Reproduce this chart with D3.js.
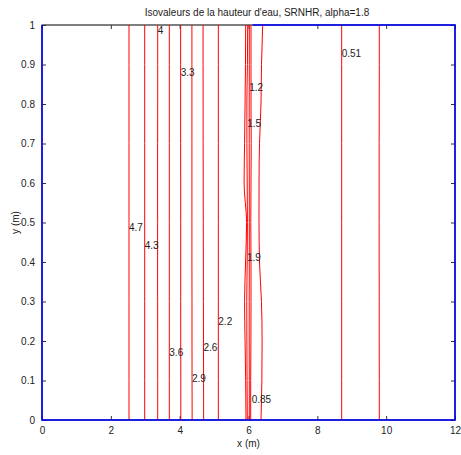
<!DOCTYPE html>
<html><head><meta charset="utf-8">
<script src="https://cdn.jsdelivr.net/npm/d3@7"></script>
<style>body{margin:0;background:#fff;} text{font-family:"Liberation Sans",Arial,sans-serif;}</style>
</head><body>
<svg id="c" width="461" height="455"></svg>
<script>
// sample heights (y) at which contour x-positions are given
const sampleY = [0, 0.1, 0.2, 0.3, 0.4, 0.5, 0.6, 0.7, 0.8, 0.9, 1.0];
// contour x positions (m) for each line, at sampleY
const contourLevels = ["4.7","4.3","4","3.6","3.3","2.9","2.6","2.2","1.9","1.5","1.2","0.85","0.85b","0.51","0.17"];
const contourX = [
  [2.528,2.528,2.528,2.528,2.528,2.528,2.528,2.528,2.528,2.528,2.528],
  [2.984,2.984,2.984,2.984,2.984,2.984,2.984,2.984,2.984,2.984,2.984],
  [3.362,3.362,3.362,3.360,3.360,3.360,3.360,3.360,3.362,3.362,3.362],
  [3.699,3.699,3.699,3.699,3.699,3.699,3.699,3.699,3.699,3.699,3.699],
  [4.033,4.033,4.031,4.030,4.030,4.030,4.030,4.028,4.028,4.028,4.028],
  [4.362,4.360,4.358,4.358,4.356,4.356,4.356,4.356,4.356,4.356,4.356],
  [4.697,4.695,4.692,4.690,4.688,4.686,4.684,4.682,4.681,4.680,4.680],
  [5.123,5.123,5.123,5.123,5.123,5.123,5.123,5.123,5.123,5.123,5.123],
  [5.927,5.918,5.900,5.886,5.915,5.944,5.872,5.886,5.900,5.912,5.918],
  [5.965,5.959,5.953,5.950,5.962,5.968,5.962,5.953,5.953,5.968,5.977],
  [6.023,6.023,6.020,6.020,6.023,6.023,6.023,6.020,6.020,6.023,6.023],
  [6.064,6.064,6.070,6.073,6.073,6.067,6.073,6.079,6.073,6.073,6.073],
  [6.363,6.388,6.395,6.377,6.320,6.305,6.306,6.320,6.363,6.378,6.412],
  [8.708,8.708,8.708,8.708,8.708,8.708,8.708,8.708,8.708,8.708,8.708],
  [9.800,9.800,9.798,9.798,9.796,9.796,9.796,9.796,9.798,9.800,9.800]
];
// inline labels: text, x (m), y (m)
const labelText = ["4.7","4.3","4","3.6","3.3","2.9","2.6","2.2","1.9","1.5","1.2","0.85","0.51"];
const labelX = [2.528,2.984,3.362,3.699,4.030,4.358,4.690,5.123,5.955,5.965,6.023,6.092,8.708];
const labelY = [0.488,0.441,0.987,0.172,0.880,0.106,0.184,0.249,0.411,0.751,0.841,0.053,0.927];
const xTicks = [0,2,4,6,8,10,12];
const yTicks = [0,0.1,0.2,0.3,0.4,0.5,0.6,0.7,0.8,0.9,1];
// blue boundary polyline (m)
const boundX = [6.12,12,12,0,0];
const boundY = [1,1,0,0,1];

const svg = d3.select("#c");
const L=42, R=455, T=25, B=420;
const x = d3.scaleLinear().domain([0,12]).range([L,R]);
const y = d3.scaleLinear().domain([0,1]).range([B,T]);

// box
svg.append("rect").attr("x",L).attr("y",T).attr("width",R-L).attr("height",B-T)
  .attr("fill","none").attr("stroke","#000").attr("stroke-width",1);

// axes with inward ticks
const axB = d3.axisBottom(x).tickValues(xTicks).tickSize(-4).tickPadding(7).tickFormat(d3.format("d"));
const axT = d3.axisTop(x).tickValues(xTicks).tickSize(-4).tickFormat("");
const axL = d3.axisLeft(y).tickValues(yTicks).tickSize(-4).tickPadding(7).tickFormat(d=>d===0?"0":d===1?"1":d3.format(".1f")(d));
const axR = d3.axisRight(y).tickValues(yTicks).tickSize(-4).tickFormat("");
function style(g){
  g.select(".domain").remove();
  g.selectAll(".tick line").attr("stroke","#333");
  g.selectAll(".tick text").attr("fill","#222").style("font-size","10px").style("font-family","Liberation Sans, Arial, sans-serif");
}
svg.append("g").attr("transform",`translate(0,${B})`).call(axB).call(style);
svg.append("g").attr("transform",`translate(0,${T})`).call(axT).call(style);
svg.append("g").attr("transform",`translate(${L},0)`).call(axL).call(style);
svg.append("g").attr("transform",`translate(${R},0)`).call(axR).call(style);

// contours
const line = d3.line().x(d=>x(d[0])).y(d=>y(d[1])).curve(d3.curveMonotoneY);
contourX.forEach((xs,i)=>{
  svg.append("path").datum(xs.map((v,j)=>[v,sampleY[j]]))
    .attr("d",line).attr("fill","none").attr("stroke","#ff0000").attr("stroke-width",1);
});

// boundary
svg.append("path").datum(boundX.map((v,i)=>[v,boundY[i]]))
  .attr("d",d3.line().x(d=>x(d[0])).y(d=>y(d[1])))
  .attr("fill","none").attr("stroke","#0000ff").attr("stroke-width",1.5);

// labels
labelText.forEach((t,i)=>{
  svg.append("text").attr("x",x(labelX[i])).attr("y",y(labelY[i])).attr("dy","0.35em")
    .attr("fill","#222").style("font-size","10px").text(t);
});

// title & axis labels
svg.append("text").attr("x",257).attr("y",16).attr("text-anchor","middle").attr("fill","#222")
  .style("font-size","10px").text("Isovaleurs de la hauteur d'eau, SRNHR, alpha=1.8");
svg.append("text").attr("x",(L+R)/2).attr("y",447).attr("text-anchor","middle").attr("fill","#222")
  .style("font-size","10px").text("x (m)");
svg.append("text").attr("transform",`translate(19,${(T+B)/2}) rotate(-90)`).attr("text-anchor","middle").attr("fill","#222")
  .style("font-size","10px").text("y (m)");
</script>
</body></html>
